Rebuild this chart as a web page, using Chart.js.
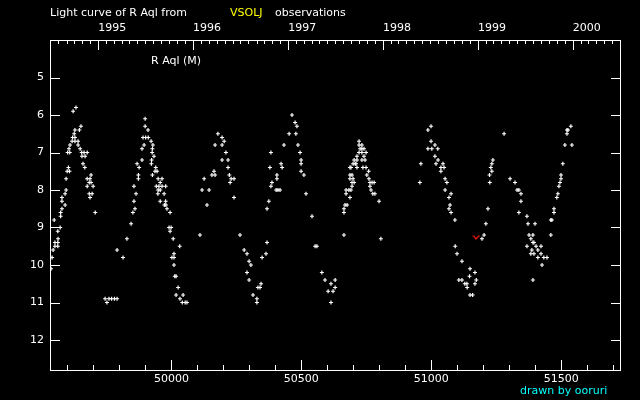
<!DOCTYPE html>
<html><head><meta charset="utf-8">
<script src="https://cdn.jsdelivr.net/npm/chart.js@4.4.1/dist/chart.umd.min.js"></script>
<style>html,body{margin:0;padding:0;background:#000;}canvas{display:block;}</style>
</head><body>
<canvas id="c" width="640" height="400"></canvas>
<script>
// Observation dates (JD - 2400000) and visual magnitudes of R Aql
const jd = [
 49633,49622,49652,49629,49646,49626,49620,49629,49618,49629,49641,49610,49641,49649,49606,49601,49609,49655,49664,49676,
 49656,49668,49660,49667,49604,49599,49608,49595,49691,49676,49687,49684,49691,49676,49699,49595,49591,49684,49695,49687,
 49579,49579,49591,49579,49574,49574,49707,49549,49572,49563,49564,49552,49563,49552,49563,49545,49541,49537,
 49745,49760,49770,49781,49791,49752,
 49791,49814,49829,49845,49852,49860,49856,49864,49856,49873,49873,49868,49876,49887,49887,49895,49891,49901,49911,49899,
 49899,49910,49922,49929,49927,49926,49933,49924,49923,49940,49937,49945,49927,49949,49964,49957,49942,49952,49964,49978,
 49949,49957,49948,49972,49957,49978,49973,49979,49983,49995,49991,49999,49995,50007,50032,50010,50002,50010,50010,50013,
 50018,50026,50018,50045,50033,50042,50053,50060,
 50110,50118,50126,50137,50145,50156,50168,50164,50168,50179,50195,50203,50195,50210,50195,50218,50218,50223,50230,50241,
 50226,50241,50264,
 50280,50291,50299,50306,50291,50299,50314,50329,50329,50333,50341,50345,50349,50364,50368,
 50368,50375,50383,50387,50379,50383,50403,50410,50418,50406,50406,50422,50426,50433,50453,50464,50476,50483,50479,50487,
 50495,50499,50499,50499,50510,50518,50541,50553,50560,
 50579,50591,50603,50614,50622,50630,50630,50614,
 50664,50664,50664,50668,50676,50672,50672,50683,50691,50687,50695,50695,50703,50687,50699,50687,50695,50687,50691,50714,
 50699,50707,50710,50703,50714,50714,50722,50733,50749,50726,50733,50741,50722,50733,50722,50741,50733,50745,50737,50749,
 50759,50752,50760,50764,50772,50780,50764,50768,50775,50783,50799,50806,
 50956,50960,50987,50999,50999,51014,50987,51002,51025,51014,51026,51018,51045,51037,51049,51037,51053,51060,51053,51076,
 51068,51072,51068,51076,51091,51092,51099,51118,51149,51168,51147,51106,51118,51173,51168,51129,51137,51138,51149,51159,
 51195,51203,51210,51218,51225,51224,51233,51229,51233,51237,51280,
 51303,51322,51330,51337,51345,51345,51337,51368,51372,51399,51376,51391,51383,51391,51395,51368,51403,51422,51387,51410,
 51383,51395,51422,51410,51433,51445,51426,51391,
 51460,51460,51464,51472,51472,51483,51487,51491,51495,51499,51499,51506,51514,51541,51522,51522,51526,51537
];
const mag = [
 5.8,5.9,6.3,6.4,6.4,6.5,6.6,6.6,6.7,6.7,6.7,6.8,6.8,6.9,6.9,7.0,7.0,7.0,7.0,7.0,
 7.1,7.1,7.3,7.4,7.4,7.5,7.5,7.7,7.6,7.7,7.7,7.8,7.8,7.9,7.9,8.0,8.1,8.1,8.1,8.2,
 8.2,8.3,8.4,8.5,8.6,8.7,8.6,8.8,9.0,9.1,9.3,9.4,9.4,9.5,9.5,9.6,9.8,10.1,
 10.9,10.9,10.9,10.9,10.9,11.0,
 9.6,9.8,9.3,8.9,8.6,8.5,8.3,8.1,7.9,7.6,7.7,7.3,7.4,7.2,6.9,6.8,6.6,6.6,6.6,6.1,
 6.3,6.4,6.7,6.8,6.9,7.0,7.1,7.2,7.3,7.4,7.5,7.5,7.6,7.7,7.7,7.8,7.9,7.9,7.9,7.9,
 8.0,8.0,8.1,8.1,8.3,8.3,8.4,8.4,8.5,8.6,9.0,9.0,9.1,9.3,9.5,9.7,9.8,9.8,10.0,10.3,
 10.3,10.6,10.8,10.8,10.9,11.0,11.0,11.0,
 9.2,8.0,7.7,8.4,8.0,7.6,7.6,7.5,6.8,6.5,6.6,6.7,6.8,7.0,7.2,7.2,7.4,7.6,7.7,7.7,
 7.8,8.2,9.2,
 9.6,9.7,9.9,10.0,10.2,10.4,10.8,10.9,11.0,10.6,10.6,10.5,9.8,9.7,9.4,
 8.5,8.3,7.9,7.8,7.4,7.0,8.0,8.0,8.0,7.6,7.7,7.3,7.4,6.8,6.5,6.0,6.2,6.3,6.5,6.8,
 7.0,7.2,7.3,7.5,7.6,8.1,8.7,9.5,9.5,
 10.2,10.4,10.7,10.5,10.7,10.4,10.6,11.0,
 9.2,8.6,8.5,8.4,8.4,8.1,8.0,8.0,8.0,8.2,7.9,7.8,7.8,7.7,7.7,7.6,7.6,7.4,7.4,7.4,
 7.3,7.3,7.3,7.2,7.2,7.1,7.0,7.0,7.0,6.9,6.9,6.9,6.8,6.8,6.7,7.1,7.2,7.2,7.4,7.4,
 7.5,7.6,7.7,7.8,7.8,7.8,7.9,8.0,8.1,8.1,8.3,9.3,
 7.8,7.3,6.4,6.3,6.7,6.8,6.9,6.9,6.9,7.1,7.2,7.3,7.3,7.4,7.4,7.5,7.7,7.8,8.0,8.1,
 8.2,8.4,8.5,8.6,8.8,9.5,9.7,9.9,10.1,10.2,10.3,10.4,10.4,10.4,10.5,10.5,10.5,10.6,10.8,10.8,
 9.3,9.2,8.9,8.5,7.8,7.6,7.5,7.4,7.3,7.2,6.5,
 7.7,7.8,8.0,8.0,8.1,8.3,8.6,8.7,8.9,8.9,9.2,9.2,9.3,9.4,9.4,9.5,9.5,9.5,9.6,9.6,
 9.7,9.7,9.7,9.8,9.8,9.8,10.0,10.4,
 9.2,8.8,8.8,8.6,8.5,8.2,8.1,7.9,7.8,7.7,7.6,7.3,6.8,6.8,6.5,6.4,6.4,6.3
];
// "fainter than" observation (red)
const limitJd = [51172];
const limitMag = [9.26];

const magTicks = [5,6,7,8,9,10,11,12];
const jdLabelTicks = [50000,50500,51000,51500];
const yearLabels = ['1995','1996','1997','1998','1999','2000'];
const yearNumbers = [1995,1996,1997,1998,1999,2000];

const JD_MIN = 49533, JD_MAX = 51726, MAG_MIN = 4, MAG_MAX = 12.8;

function calJd(y, m) { return Date.UTC(y, m, 1) / 86400000 + 40587.5; }
const yearJd = yearNumbers.map(y => calJd(y, 0));
const monthTicks = [];
for (let y = 1994; y <= 2000; y++) for (let m = 0; m < 12; m++) {
  const v = calJd(y, m);
  if (v > JD_MIN + 3 && v < JD_MAX - 3) monthTicks.push({value: v, jan: m === 0});
}
const dayTicks = [];
for (let v = 49600; v < JD_MAX; v += 100) dayTicks.push({value: v});

const pts = jd.map((x, i) => ({x: x, y: mag[i]}));
const limPts = limitJd.map((x, i) => ({x: x, y: limitMag[i]}));

const vCanvas = document.createElement('canvas');
vCanvas.width = 8; vCanvas.height = 5;
(function(){ const g = vCanvas.getContext('2d'); g.strokeStyle = '#ff1a1a'; g.lineWidth = 1.2;
  g.beginPath(); g.moveTo(0.5, 1); g.lineTo(2, 1.5); g.lineTo(3.8, 4); g.lineTo(7.5, 0.8); g.stroke(); })();

Chart.defaults.font.family = 'DejaVu Sans';
Chart.defaults.font.size = 11;
Chart.defaults.color = '#ffffff';

function drawFrame(chart) {
  const c = chart.ctx, s = chart.scales;
  const L = Math.round(s.y.right), R = Math.round(s.x.right), T = Math.round(s.x2.bottom), B = Math.round(s.x.top);
  c.save();
  c.globalAlpha = 1;
  c.globalCompositeOperation = 'source-over';
  c.fillStyle = '#ffffff';
  c.fillRect(L, T, R - L + 1, 1);
  c.fillRect(L, B, R - L + 1, 1);
  c.fillRect(L, T, 1, B - T + 1);
  c.fillRect(R, T, 1, B - T + 1);
  dayTicks.forEach(t => {
    const p = Math.round(s.x.getPixelForValue(t.value));
    const len = jdLabelTicks.includes(t.value) ? 10 : 5;
    c.fillRect(p, B - len, 1, len);
  });
  monthTicks.forEach(t => {
    const p = Math.round(s.x2.getPixelForValue(t.value));
    const len = t.jan ? 10 : 4;
    c.fillRect(p, T, 1, len);
  });
  magTicks.forEach(v => {
    const p = Math.round(s.y.getPixelForValue(v));
    c.fillRect(L, p, 10, 1);
    c.fillRect(R - 9, p, 10, 1);
  });
  c.font = '11px "DejaVu Sans"';
  c.textBaseline = 'middle';
  c.textAlign = 'left';
  c.fillStyle = '#ffffff';
  c.fillText('Light curve of R Aql from', 50, 13);
  c.fillStyle = '#ffff00';
  c.fillText('VSOLJ', 230, 13);
  c.fillStyle = '#ffffff';
  c.fillText('observations', 275, 13);
  c.fillText('R Aql (M)', 151, 61);
  c.fillStyle = '#00ffff';
  c.fillText('drawn by ooruri', 520, 391);
  c.restore();
}

const framePlugin = {
  id: 'lcframe',
  beforeDraw(chart) {
    const c = chart.ctx; c.save(); c.fillStyle = '#000'; c.fillRect(0, 0, chart.width, chart.height); c.restore();
  },
  afterDatasetsDraw(chart) { drawFrame(chart); }
};

new Chart(document.getElementById('c'), {
  type: 'scatter',
  data: {
    datasets: [
      { label: 'R Aql', data: pts, pointStyle: 'cross', pointRadius: 2, pointHoverRadius: 2,
        borderColor: '#ffffff', backgroundColor: '#ffffff', borderWidth: 1.2 },
      { label: 'fainter than', data: limPts, pointStyle: vCanvas, pointRadius: 3 }
    ]
  },
  options: {
    responsive: false, animation: false, devicePixelRatio: 1,
    layout: { padding: { left: 0, right: 20, top: 0, bottom: 0 } },
    plugins: { legend: { display: false }, tooltip: { enabled: false } },
    scales: {
      x: {
        type: 'linear', position: 'bottom', min: JD_MIN, max: JD_MAX,
        grid: { display: false, drawTicks: false }, border: { display: false },
        afterBuildTicks: sc => { sc.ticks = dayTicks.map(t => ({value: t.value})); },
        afterFit: sc => { sc.height = 30; sc.paddingLeft = 0; sc.paddingRight = 0; },
        ticks: { autoSkip: false, maxRotation: 0, minRotation: 0, padding: 3, color: '#ffffff',
          callback: v => jdLabelTicks.includes(v) ? String(v) : '' }
      },
      x2: {
        type: 'linear', position: 'top', min: JD_MIN, max: JD_MAX,
        grid: { display: false, drawTicks: false }, border: { display: false },
        afterBuildTicks: sc => { sc.ticks = monthTicks.map(t => ({value: t.value})); },
        afterFit: sc => { sc.height = 40; sc.paddingLeft = 0; sc.paddingRight = 0; },
        ticks: { autoSkip: false, maxRotation: 0, minRotation: 0, padding: 5, align: 'start', color: '#ffffff',
          callback: v => { const i = yearJd.findIndex(y => Math.abs(y - v) < 0.01); return i >= 0 ? yearLabels[i] : ''; } }
      },
      y: {
        type: 'linear', position: 'left', reverse: true, min: MAG_MIN, max: MAG_MAX,
        grid: { display: false, drawTicks: false }, border: { display: false },
        afterBuildTicks: sc => { sc.ticks = magTicks.map(v => ({value: v})); },
        afterFit: sc => { sc.width = 50; sc.paddingTop = 0; sc.paddingBottom = 0; },
        ticks: { autoSkip: false, padding: 6, color: '#ffffff', callback: v => String(v) }
      }
    }
  },
  plugins: [framePlugin]
});
</script>
</body></html>
